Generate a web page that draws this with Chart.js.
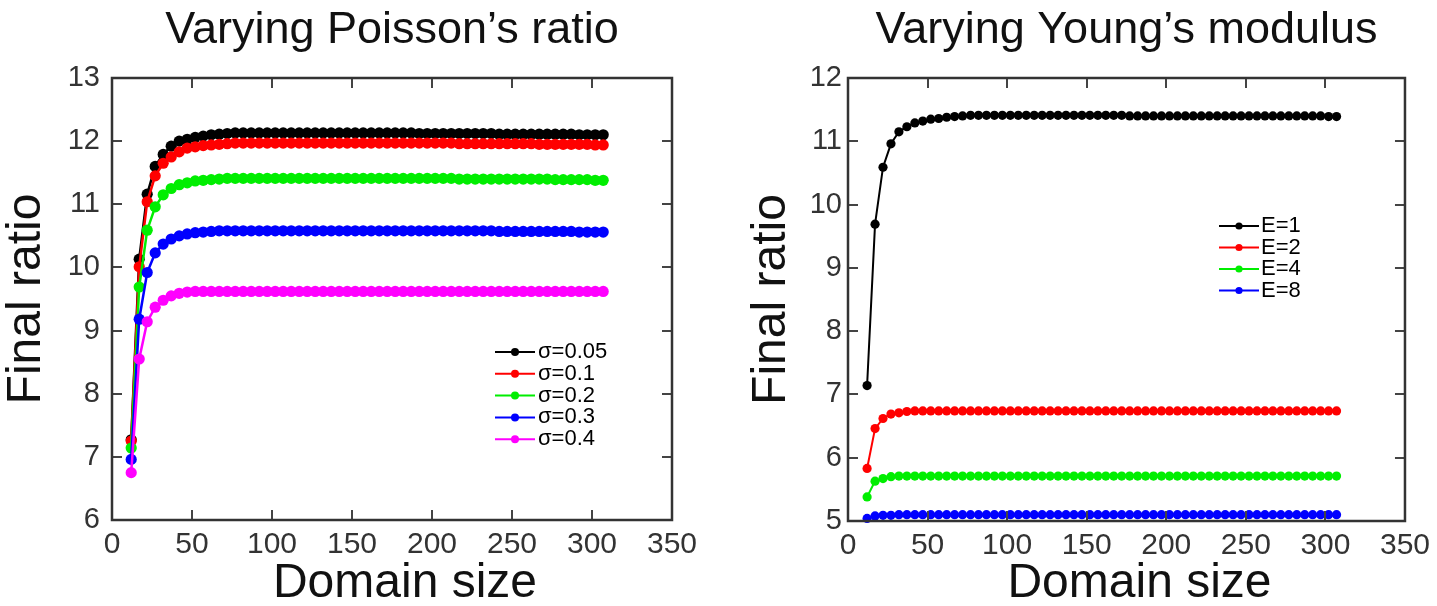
<!DOCTYPE html>
<html>
<head>
<meta charset="utf-8">
<script src="https://cdn.jsdelivr.net/npm/chart.js@4.4.0/dist/chart.umd.min.js"></script>
<style>
  body { margin: 0; background: #fff; }
  .panel { position: absolute; top: 0; }
  #left-panel { left: 0; }
  #right-panel { left: 718px; }
</style>
</head>
<body>
<div class="panel" id="left-panel"><canvas id="poisson-chart" width="718" height="606"></canvas></div>
<div class="panel" id="right-panel"><canvas id="young-chart" width="719" height="606"></canvas></div>
<script>
const FONT = '"Liberation Sans", Arial, sans-serif';

// x values shared by both panels
const domainSize = [12, 17, 22, 27, 32, 37, 42, 47, 52, 57,
    62, 67, 72, 77, 82, 87, 92, 97, 102, 107,
    112, 117, 122, 127, 132, 137, 142, 147, 152, 157,
    162, 167, 172, 177, 182, 187, 192, 197, 202, 207,
    212, 217, 222, 227, 232, 237, 242, 247, 252, 257,
    262, 267, 272, 277, 282, 287, 292, 297, 302, 307];

const xTicks = [0, 50, 100, 150, 200, 250, 300, 350];
const poissonYTicks = [6, 7, 8, 9, 10, 11, 12, 13];
const youngYTicks = [5, 6, 7, 8, 9, 10, 11, 12];

// left panel: varying Poisson's ratio
const poissonLabels = ['σ=0.05', 'σ=0.1', 'σ=0.2', 'σ=0.3', 'σ=0.4'];

const sigma005 = [7.27, 10.13, 11.16, 11.60, 11.79, 11.92, 12.00, 12.03, 12.06, 12.08,
    12.10, 12.11, 12.12, 12.13, 12.13, 12.13, 12.13, 12.13, 12.13, 12.13,
    12.13, 12.13, 12.13, 12.13, 12.13, 12.13, 12.13, 12.13, 12.13, 12.13,
    12.13, 12.13, 12.13, 12.13, 12.13, 12.13, 12.12, 12.12, 12.12, 12.12,
    12.12, 12.12, 12.12, 12.12, 12.12, 12.12, 12.11, 12.11, 12.11, 12.11,
    12.11, 12.11, 12.11, 12.11, 12.11, 12.11, 12.10, 12.10, 12.10, 12.10];

const sigma01 = [7.25, 10.01, 11.04, 11.45, 11.65, 11.75, 11.83, 11.89, 11.91, 11.93,
    11.94, 11.95, 11.96, 11.97, 11.97, 11.97, 11.97, 11.97, 11.97, 11.97,
    11.97, 11.97, 11.97, 11.97, 11.97, 11.97, 11.97, 11.97, 11.97, 11.97,
    11.97, 11.97, 11.97, 11.97, 11.97, 11.97, 11.97, 11.97, 11.97, 11.97,
    11.97, 11.96, 11.96, 11.96, 11.96, 11.96, 11.96, 11.96, 11.96, 11.96,
    11.96, 11.95, 11.95, 11.95, 11.95, 11.95, 11.95, 11.95, 11.94, 11.94];

const sigma02 = [7.14, 9.69, 10.59, 10.96, 11.15, 11.25, 11.31, 11.34, 11.37, 11.38,
    11.39, 11.40, 11.41, 11.41, 11.41, 11.41, 11.41, 11.41, 11.41, 11.41,
    11.41, 11.41, 11.41, 11.41, 11.41, 11.41, 11.41, 11.41, 11.41, 11.41,
    11.41, 11.41, 11.41, 11.41, 11.41, 11.41, 11.41, 11.41, 11.41, 11.41,
    11.41, 11.40, 11.40, 11.40, 11.40, 11.40, 11.40, 11.40, 11.40, 11.40,
    11.40, 11.40, 11.40, 11.39, 11.39, 11.39, 11.39, 11.39, 11.38, 11.38];

const sigma03 = [6.96, 9.18, 9.92, 10.23, 10.37, 10.45, 10.50, 10.53, 10.55, 10.56,
    10.57, 10.58, 10.58, 10.58, 10.58, 10.58, 10.58, 10.58, 10.58, 10.58,
    10.58, 10.58, 10.58, 10.58, 10.58, 10.58, 10.58, 10.58, 10.58, 10.58,
    10.58, 10.58, 10.58, 10.58, 10.58, 10.58, 10.58, 10.58, 10.58, 10.58,
    10.58, 10.58, 10.58, 10.58, 10.58, 10.58, 10.57, 10.57, 10.57, 10.57,
    10.57, 10.57, 10.57, 10.57, 10.57, 10.57, 10.56, 10.56, 10.56, 10.56];

const sigma04 = [6.75, 8.55, 9.14, 9.37, 9.48, 9.55, 9.59, 9.61, 9.62, 9.62,
    9.62, 9.62, 9.62, 9.62, 9.62, 9.62, 9.62, 9.62, 9.62, 9.62,
    9.62, 9.62, 9.62, 9.62, 9.62, 9.62, 9.62, 9.62, 9.62, 9.62,
    9.62, 9.62, 9.62, 9.62, 9.62, 9.62, 9.62, 9.62, 9.62, 9.62,
    9.62, 9.62, 9.62, 9.62, 9.62, 9.62, 9.62, 9.62, 9.62, 9.62,
    9.62, 9.62, 9.62, 9.62, 9.62, 9.62, 9.62, 9.62, 9.62, 9.62];

// right panel: varying Young's modulus
const youngLabels = ['E=1', 'E=2', 'E=4', 'E=8'];

const e1 = [7.14, 9.69, 10.59, 10.96, 11.15, 11.23, 11.29, 11.32, 11.35, 11.36,
    11.38, 11.39, 11.40, 11.41, 11.41, 11.41, 11.41, 11.41, 11.41, 11.41,
    11.41, 11.41, 11.41, 11.41, 11.41, 11.41, 11.41, 11.41, 11.41, 11.41,
    11.41, 11.41, 11.41, 11.40, 11.40, 11.40, 11.40, 11.40, 11.40, 11.40,
    11.40, 11.40, 11.40, 11.40, 11.40, 11.40, 11.40, 11.40, 11.40, 11.40,
    11.40, 11.40, 11.40, 11.40, 11.40, 11.40, 11.40, 11.40, 11.39, 11.39];

const e2 = [5.83, 6.46, 6.62, 6.69, 6.71, 6.73, 6.74, 6.74, 6.74, 6.74,
    6.74, 6.74, 6.74, 6.74, 6.74, 6.74, 6.74, 6.74, 6.74, 6.74,
    6.74, 6.74, 6.74, 6.74, 6.74, 6.74, 6.74, 6.74, 6.74, 6.74,
    6.74, 6.74, 6.74, 6.74, 6.74, 6.74, 6.74, 6.74, 6.74, 6.74,
    6.74, 6.74, 6.74, 6.74, 6.74, 6.74, 6.74, 6.74, 6.74, 6.74,
    6.74, 6.74, 6.74, 6.74, 6.74, 6.74, 6.74, 6.74, 6.74, 6.74];

const e4 = [5.38, 5.63, 5.67, 5.70, 5.71, 5.71, 5.71, 5.71, 5.71, 5.71,
    5.71, 5.71, 5.71, 5.71, 5.71, 5.71, 5.71, 5.71, 5.71, 5.71,
    5.71, 5.71, 5.71, 5.71, 5.71, 5.71, 5.71, 5.71, 5.71, 5.71,
    5.71, 5.71, 5.71, 5.71, 5.71, 5.71, 5.71, 5.71, 5.71, 5.71,
    5.71, 5.71, 5.71, 5.71, 5.71, 5.71, 5.71, 5.71, 5.71, 5.71,
    5.71, 5.71, 5.71, 5.71, 5.71, 5.71, 5.71, 5.71, 5.71, 5.71];

const e8 = [5.04, 5.08, 5.09, 5.09, 5.10, 5.10, 5.10, 5.10, 5.10, 5.10,
    5.10, 5.10, 5.10, 5.10, 5.10, 5.10, 5.10, 5.10, 5.10, 5.10,
    5.10, 5.10, 5.10, 5.10, 5.10, 5.10, 5.10, 5.10, 5.10, 5.10,
    5.10, 5.10, 5.10, 5.10, 5.10, 5.10, 5.10, 5.10, 5.10, 5.10,
    5.10, 5.10, 5.10, 5.10, 5.10, 5.10, 5.10, 5.10, 5.10, 5.10,
    5.10, 5.10, 5.10, 5.10, 5.10, 5.10, 5.10, 5.10, 5.10, 5.10];

const colors = ['#000000', '#ff0000', '#00ee00', '#0000ff', '#ff00ff'];

// box around the plot with inward tick marks on all four sides
const boxAxes = {
    id: 'boxAxes',
    afterDraw(chart) {
        const { ctx, chartArea, scales } = chart;
        const { left, right, top, bottom } = chartArea;
        const len = 10;

        ctx.save();
        ctx.strokeStyle = '#444';
        ctx.lineWidth = 2;
        ctx.beginPath();
        scales.x.ticks.forEach((t) => {
            const px = Math.round(scales.x.getPixelForValue(t.value));
            ctx.moveTo(px, bottom);
            ctx.lineTo(px, bottom - len);
            ctx.moveTo(px, top);
            ctx.lineTo(px, top + len);
        });
        scales.y.ticks.forEach((t) => {
            const py = Math.round(scales.y.getPixelForValue(t.value));
            ctx.moveTo(left, py);
            ctx.lineTo(left + len, py);
            ctx.moveTo(right, py);
            ctx.lineTo(right - len, py);
        });
        ctx.stroke();

        ctx.strokeStyle = '#333';
        ctx.lineWidth = 2.5;
        ctx.strokeRect(left, top, right - left, bottom - top);
        ctx.restore();
    },
};

// x axis title, nudged right of the plot centre as in the original figure
const xAxisTitle = {
    id: 'xAxisTitle',
    afterDraw(chart, args, opts) {
        const { ctx, chartArea } = chart;
        ctx.save();
        ctx.font = `${opts.fontSize}px ${FONT}`;
        ctx.fillStyle = '#111';
        ctx.textAlign = 'center';
        ctx.textBaseline = 'alphabetic';
        ctx.fillText(opts.text, (chartArea.left + chartArea.right) / 2 + opts.dx, opts.baseline);
        ctx.restore();
    },
};

// legend drawn inside the plot: short line with a dot, then the label
const lineLegend = {
    id: 'lineLegend',
    afterDraw(chart, args, opts) {
        const { ctx } = chart;
        ctx.save();
        ctx.font = `${opts.fontSize}px ${FONT}`;
        ctx.textBaseline = 'middle';
        chart.data.datasets.forEach((ds, i) => {
            const y = opts.y + i * opts.rowGap;
            ctx.strokeStyle = ds.borderColor;
            ctx.lineWidth = 2;
            ctx.beginPath();
            ctx.moveTo(opts.x, y);
            ctx.lineTo(opts.x + opts.lineLength, y);
            ctx.stroke();

            ctx.fillStyle = ds.backgroundColor;
            ctx.beginPath();
            ctx.arc(opts.x + opts.lineLength / 2, y, opts.pointRadius, 0, Math.PI * 2);
            ctx.fill();

            ctx.fillStyle = '#000';
            ctx.fillText(ds.label, opts.x + opts.lineLength + opts.textGap, y);
        });
        ctx.restore();
    },
};

const makeDatasets = (labels, series, pointRadius, lineWidth) =>
    series.map((values, i) => ({
        label: labels[i],
        data: domainSize.map((x, j) => ({ x, y: values[j] })),
        borderColor: colors[i],
        backgroundColor: colors[i],
        borderWidth: lineWidth,
        pointRadius: pointRadius,
        pointBorderWidth: 0,
        pointHoverRadius: pointRadius,
        tension: 0,
        clip: false,
        order: series.length - i,
    }));

const renderPanel = (canvas, cfg) => {
    new Chart(canvas, {
        type: 'line',
        data: { datasets: cfg.datasets },
        plugins: [boxAxes, lineLegend, xAxisTitle],
        options: {
            responsive: false,
            animation: false,
            layout: { padding: cfg.padding },
            plugins: {
                legend: { display: false },
                tooltip: { enabled: false },
                title: {
                    display: true,
                    text: cfg.title,
                    fullSize: false,
                    color: '#111',
                    font: { family: FONT, size: 45, weight: 'normal', lineHeight: 1.2 },
                    padding: { top: 4, bottom: 20 },
                },
                lineLegend: cfg.legend,
                xAxisTitle: { text: 'Domain size', fontSize: 48, dx: 13, baseline: 597 },
            },
            scales: {
                x: {
                    type: 'linear',
                    min: xTicks[0],
                    max: xTicks[xTicks.length - 1],
                    afterBuildTicks: (scale) => {
                        scale.ticks = xTicks.map((v) => ({ value: v }));
                    },
                    afterFit: (scale) => {
                        scale.height = cfg.xHeight;
                    },
                    grid: { display: false, drawTicks: false },
                    border: { display: false },
                    ticks: {
                        color: '#333',
                        padding: 7,
                        maxRotation: 0,
                        font: { family: FONT, size: 30 },
                    },
                },
                y: {
                    type: 'linear',
                    min: cfg.yTicks[0],
                    max: cfg.yTicks[cfg.yTicks.length - 1],
                    afterBuildTicks: (scale) => {
                        scale.ticks = cfg.yTicks.map((v) => ({ value: v }));
                    },
                    afterFit: (scale) => {
                        scale.width = cfg.yWidth;
                    },
                    grid: { display: false, drawTicks: false },
                    border: { display: false },
                    ticks: {
                        color: '#333',
                        padding: cfg.yTickPad,
                        font: { family: FONT, size: 29 },
                    },
                    title: {
                        display: true,
                        text: 'Final ratio',
                        color: '#111',
                        font: { family: FONT, size: 48, lineHeight: 1 },
                        padding: { top: cfg.yTitlePad, bottom: 0 },
                    },
                },
            },
        },
    });
};

renderPanel(document.getElementById('poisson-chart'), {
    title: 'Varying Poisson’s ratio',
    datasets: makeDatasets(poissonLabels, [sigma005, sigma01, sigma02, sigma03, sigma04], 5.6, 2.5),
    yTicks: poissonYTicks,
    padding: { left: 0, right: 46, top: 0, bottom: 0 },
    yWidth: 112,
    xHeight: 86,
    yTickPad: 12,
    yTitlePad: 3,
    legend: { x: 495, y: 352, rowGap: 21.8, lineLength: 40, textGap: 3, pointRadius: 4, fontSize: 22 },
});

renderPanel(document.getElementById('young-chart'), {
    title: 'Varying Young’s modulus',
    datasets: makeDatasets(youngLabels, [e1, e2, e4, e8], 4.6, 2),
    yTicks: youngYTicks,
    padding: { left: 26, right: 29, top: 0, bottom: 0 },
    yWidth: 104,
    xHeight: 85,
    yTickPad: 6,
    yTitlePad: 4,
    legend: { x: 501, y: 226, rowGap: 21.5, lineLength: 40, textGap: 2, pointRadius: 3.6, fontSize: 22 },
});
</script>
</body>
</html>
